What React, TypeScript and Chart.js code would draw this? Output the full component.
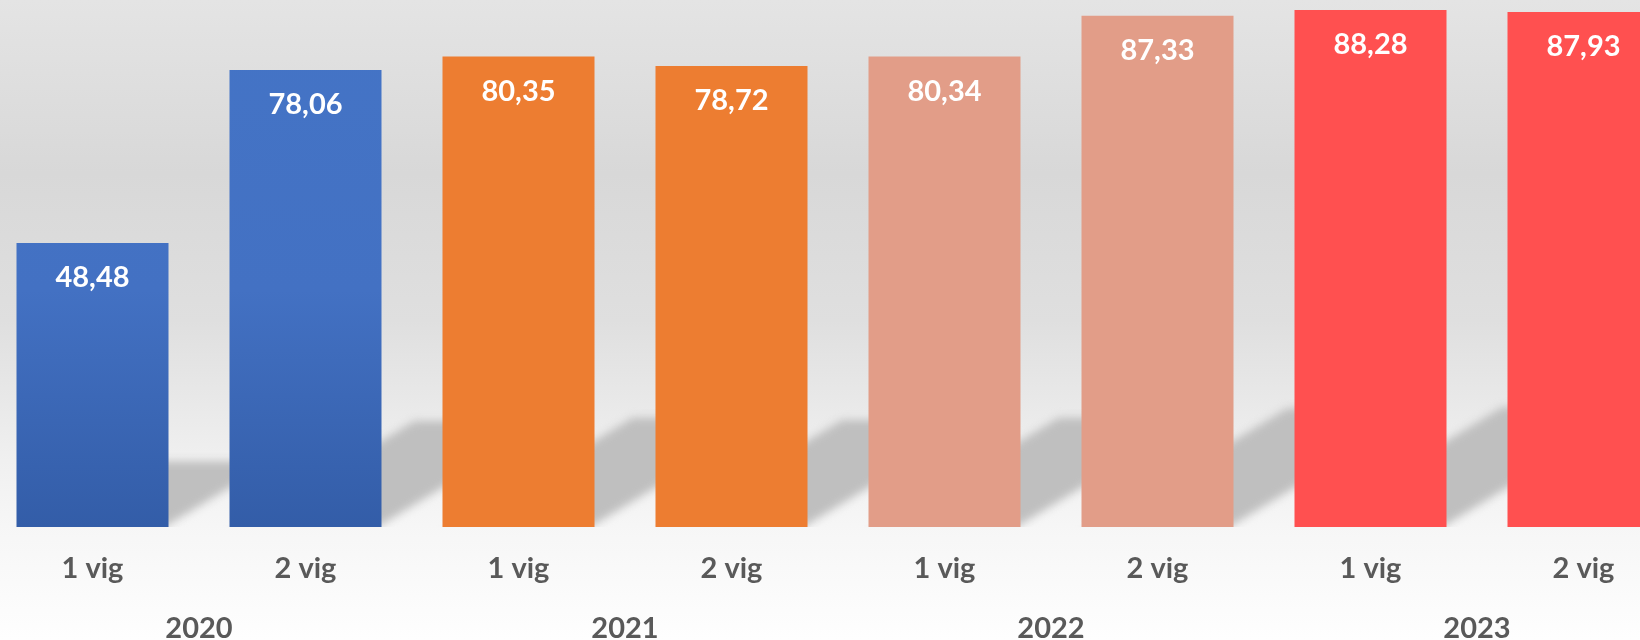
import React, { useEffect, useRef } from "react";
import { Chart, registerables } from "chart.js";

Chart.register(...registerables);

const categories = ["1 vig", "2 vig", "1 vig", "2 vig", "1 vig", "2 vig", "1 vig", "2 vig"];
const years = ["2020", "2021", "2022", "2023"];
const values = [48.48, 78.06, 80.35, 78.72, 80.34, 87.33, 88.28, 87.93];
const barColors = ["#4472C4", "#4472C4", "#ED7D31", "#ED7D31", "#E29D88", "#E29D88", "#FF5050", "#FF5050"];

const FONT = "Lato, 'Open Sans', sans-serif";

const shadowPlugin = {
  id: "barShadow",
  beforeDatasetsDraw(chart: any) {
    const { ctx, chartArea } = chart;
    const meta = chart.getDatasetMeta(0);
    ctx.save();
    ctx.beginPath();
    ctx.rect(chartArea.left, chartArea.top, chartArea.right - chartArea.left, chartArea.bottom - chartArea.top);
    ctx.clip();
    ctx.filter = "blur(4px)";
    ctx.fillStyle = "#bfbfbf";
    meta.data.forEach((bar: any) => {
      const { x, y, base, width } = bar.getProps(["x", "y", "base", "width"], true);
      const left = x - width / 2;
      const right = x + width / 2 - 14;
      const sh = 0.232 * (base - y);
      const s = 1.65;
      ctx.beginPath();
      ctx.moveTo(left, base + 6);
      ctx.lineTo(right, base + 6);
      ctx.lineTo(right + s * (sh + 6), base - sh);
      ctx.lineTo(left + s * (sh + 6), base - sh);
      ctx.closePath();
      ctx.fill();
    });
    ctx.restore();
  },
};

const labelPlugin = {
  id: "valueLabels",
  afterDatasetsDraw(chart: any) {
    const { ctx } = chart;
    const meta = chart.getDatasetMeta(0);
    ctx.save();
    ctx.fillStyle = "#ffffff";
    ctx.font = `bold 29px ${FONT}`;
    ctx.textAlign = "center";
    ctx.textBaseline = "alphabetic";
    meta.data.forEach((bar: any, i: number) => {
      const { x, y } = bar.getProps(["x", "y"], true);
      ctx.fillText(values[i].toFixed(2).replace(".", ","), x, y + 44);
    });
    ctx.restore();
  },
};

export default function App() {
  const canvasRef = useRef<HTMLCanvasElement | null>(null);

  useEffect(() => {
    const canvas = canvasRef.current;
    if (!canvas) return;
    const chart = new Chart(canvas, {
      type: "bar",
      data: {
        labels: categories,
        datasets: [
          {
            data: values,
            xAxisID: "x",
            yAxisID: "y",
            backgroundColor: (c: any) => {
              const i = c.dataIndex;
              const area = c.chart.chartArea;
              if (i < 2 && area) {
                const g = c.chart.ctx.createLinearGradient(0, area.top, 0, area.bottom);
                g.addColorStop(0, "#4474C6");
                g.addColorStop(0.55, "#4371C3");
                g.addColorStop(1, "#335DA8");
                return g;
              }
              return barColors[i];
            },
            borderWidth: 0,
            categoryPercentage: 1,
            barPercentage: 152 / 213,
          },
        ],
      },
      options: {
        responsive: false,
        animation: false,
        layout: { padding: { top: 0, left: 0, right: 0, bottom: 33.4 } },
        plugins: { legend: { display: false }, tooltip: { enabled: false } },
        scales: {
          y: { display: false, min: 0, max: 90 },
          x: {
            type: "category",
            position: "bottom",
            weight: 0,
            grid: { display: false, drawTicks: false },
            border: { display: false },
            ticks: {
              color: "#595959",
              font: { family: FONT, size: 29, weight: "bold" },
              padding: 24,
              maxRotation: 0,
              autoSkip: false,
            },
          },
          x2: {
            type: "category",
            position: "bottom",
            weight: 1,
            labels: years,
            offset: true,
            grid: { display: false, drawTicks: false },
            border: { display: false },
            ticks: {
              color: "#595959",
              font: { family: FONT, size: 29, weight: "bold" },
              padding: 1,
              maxRotation: 0,
              autoSkip: false,
            },
          },
        },
      },
      plugins: [shadowPlugin, labelPlugin],
    } as any);
    return () => chart.destroy();
  }, []);

  return (
    <div
      style={{
        position: "fixed",
        left: 0,
        top: 0,
        width: 1640,
        height: 640,
        overflow: "hidden",
        background:
          "linear-gradient(to bottom, #e4e4e4 0%, #d8d8d8 27%, #dfdfdf 50%, #e8e8e8 62%, #f0f0f0 72%, #f6f6f6 82%, #fefefe 100%)",
      }}
    >
      <canvas
        ref={canvasRef}
        width={1704}
        height={680}
        style={{ position: "absolute", left: -14, top: 0, width: 1704, height: 680 }}
      />
    </div>
  );
}
